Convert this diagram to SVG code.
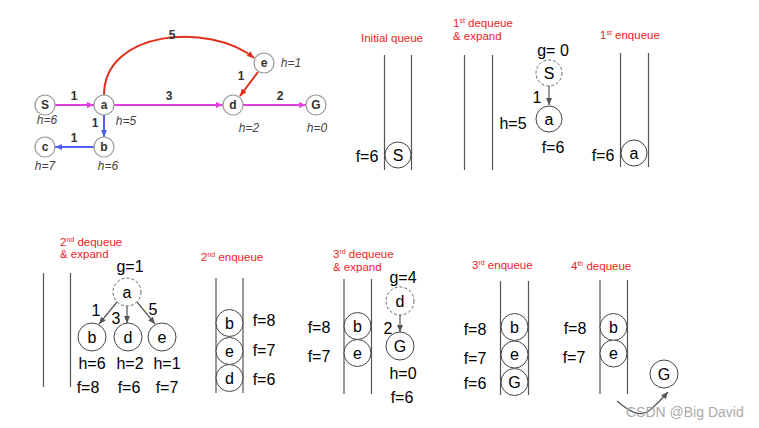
<svg xmlns="http://www.w3.org/2000/svg" width="759" height="428" viewBox="0 0 759 428">
<defs>
<marker id="mM" markerWidth="8" markerHeight="8" refX="7" refY="4" orient="auto" markerUnits="userSpaceOnUse"><path d="M0,1 L7,4 L0,7 Z" fill="#e040e0"/></marker>
<marker id="mB" markerWidth="8" markerHeight="8" refX="7" refY="4" orient="auto" markerUnits="userSpaceOnUse"><path d="M0,1 L7,4 L0,7 Z" fill="#4f5ef0"/></marker>
<marker id="mR" markerWidth="8" markerHeight="8" refX="7" refY="4" orient="auto" markerUnits="userSpaceOnUse"><path d="M0,1 L7,4 L0,7 Z" fill="#e0301e"/></marker>
<marker id="mG" markerWidth="8" markerHeight="8" refX="7" refY="4" orient="auto" markerUnits="userSpaceOnUse"><path d="M0,1 L7,4 L0,7 Z" fill="#555"/></marker>
</defs>
<style>
.gn{fill:#fff;stroke:#999;stroke-width:1.2}
.gt{font-family:"Liberation Sans",Arial,sans-serif;font-size:12px;font-weight:bold;fill:#333;text-anchor:middle}
.gh{font-family:"Liberation Sans",Arial,sans-serif;font-size:12px;font-style:italic;fill:#444;text-anchor:middle}
.em{stroke:#e040e0;stroke-width:2;fill:none}
.eb{stroke:#4f5ef0;stroke-width:2;fill:none}
.er{stroke:#e0301e;stroke-width:2;fill:none}
.q{stroke:#555;stroke-width:1.2}
.qn{fill:#fff;stroke:#444;stroke-width:1}
.qd{fill:#fff;stroke:#666;stroke-width:1;stroke-dasharray:3,2}
.t{font-family:"Liberation Sans",Arial,sans-serif;font-size:16px;fill:#000;text-anchor:middle}
.r{font-family:"Liberation Sans",Arial,sans-serif;font-size:11.5px;fill:#ee1c24}
.ar{stroke:#555;stroke-width:1.2;fill:none}
.wm{font-family:"Liberation Sans",Arial,sans-serif;font-size:14px;fill:#aaa}
</style>

<g id="connectors">
<line class="em" x1="55" y1="105" x2="94" y2="105" marker-end="url(#mM)"/>
<line class="em" x1="114" y1="105" x2="223" y2="105" marker-end="url(#mM)"/>
<line class="em" x1="243" y1="105" x2="306" y2="105" marker-end="url(#mM)"/>
<line class="eb" x1="104" y1="115" x2="104" y2="137" marker-end="url(#mB)"/>
<line class="eb" x1="94" y1="147" x2="55" y2="147" marker-end="url(#mB)"/>
<path class="er" d="M104,95 C104,30 210,22 254,58" marker-end="url(#mR)"/>
<line class="er" x1="258" y1="72" x2="240" y2="96" marker-end="url(#mR)"/>
<text class="gt" x="74" y="100">1</text>
<text class="gt" x="169" y="100">3</text>
<text class="gt" x="280" y="100">2</text>
<text class="gt" x="172" y="39">5</text>
<text class="gt" x="241" y="80">1</text>
<text class="gt" x="95" y="127">1</text>
<text class="gt" x="74" y="142">1</text>
</g>

<g id="node-S"><circle class="gn" cx="45" cy="105" r="10"/><text class="gt" x="45" y="109">S</text><text class="gh" x="47" y="124">h=6</text></g>
<g id="node-a"><circle class="gn" cx="104" cy="105" r="10"/><text class="gt" x="104" y="109">a</text><text class="gh" x="126" y="125">h=5</text></g>
<g id="node-d"><circle class="gn" cx="233" cy="105" r="10"/><text class="gt" x="233" y="109">d</text><text class="gh" x="249" y="132">h=2</text></g>
<g id="node-G"><circle class="gn" cx="316" cy="105" r="10"/><text class="gt" x="316" y="109">G</text><text class="gh" x="317" y="132">h=0</text></g>
<g id="node-e"><circle class="gn" cx="264" cy="63" r="10"/><text class="gt" x="264" y="67">e</text><text class="gh" x="291" y="67">h=1</text></g>
<g id="node-c"><circle class="gn" cx="45" cy="147" r="10"/><text class="gt" x="45" y="151">c</text><text class="gh" x="45" y="170">h=7</text></g>
<g id="node-b"><circle class="gn" cx="104" cy="147" r="10"/><text class="gt" x="104" y="151">b</text><text class="gh" x="108" y="170">h=6</text></g>

<g id="initial-queue">
<text class="r" x="361" y="42">Initial queue</text>
<line class="q" x1="384.5" y1="55" x2="384.5" y2="170"/>
<line class="q" x1="411.5" y1="55" x2="411.5" y2="170"/>
<circle class="qn" cx="398" cy="155" r="13"/>
<text class="t" x="398" y="161">S</text>
<text class="t" x="367" y="162">f=6</text>
</g>

<g id="dequeue-1">
<text class="r" x="453" y="27">1<tspan font-size="7" dy="-4">st</tspan><tspan dy="4"> dequeue</tspan></text>
<text class="r" x="453" y="40">&amp; expand</text>
<line class="q" x1="464.5" y1="55" x2="464.5" y2="170"/>
<line class="q" x1="492.5" y1="55" x2="492.5" y2="170"/>
<text class="t" x="553" y="56">g= 0</text>
<circle class="qd" cx="549" cy="73" r="13"/>
<text class="t" x="549" y="79">S</text>
<line class="ar" x1="549" y1="86" x2="549" y2="105" marker-end="url(#mG)"/>
<text class="t" x="537" y="103">1</text>
<circle class="qn" cx="549" cy="119" r="13"/>
<text class="t" x="549" y="125">a</text>
<text class="t" x="513" y="129">h=5</text>
<text class="t" x="553" y="153">f=6</text>
</g>

<g id="enqueue-1">
<text class="r" x="600" y="39">1<tspan font-size="7" dy="-4">st</tspan><tspan dy="4"> enqueue</tspan></text>
<line class="q" x1="620.5" y1="53" x2="620.5" y2="167"/>
<line class="q" x1="648.5" y1="53" x2="648.5" y2="167"/>
<circle class="qn" cx="634" cy="153" r="13"/>
<text class="t" x="634" y="159">a</text>
<text class="t" x="603" y="161">f=6</text>
</g>

<g id="dequeue-2">
<text class="r" x="60" y="246">2<tspan font-size="7" dy="-4">nd</tspan><tspan dy="4"> dequeue</tspan></text>
<text class="r" x="60" y="258">&amp; expand</text>
<line class="q" x1="43.5" y1="273" x2="43.5" y2="387"/>
<line class="q" x1="70.5" y1="273" x2="70.5" y2="387"/>
<text class="t" x="130" y="272">g=1</text>
<circle class="qd" cx="127" cy="292" r="14"/>
<text class="t" x="127" y="298">a</text>
<line class="ar" x1="117" y1="302" x2="99" y2="324" marker-end="url(#mG)"/>
<line class="ar" x1="127" y1="306" x2="127" y2="323" marker-end="url(#mG)"/>
<line class="ar" x1="137" y1="302" x2="155" y2="324" marker-end="url(#mG)"/>
<text class="t" x="96" y="316">1</text>
<text class="t" x="116" y="324">3</text>
<text class="t" x="153" y="315">5</text>
<circle class="qn" cx="92" cy="337" r="14"/><text class="t" x="92" y="343">b</text>
<circle class="qn" cx="128" cy="337" r="14"/><text class="t" x="128" y="343">d</text>
<circle class="qn" cx="162" cy="337" r="14"/><text class="t" x="162" y="343">e</text>
<text class="t" x="92" y="369">h=6</text>
<text class="t" x="130" y="369">h=2</text>
<text class="t" x="167" y="369">h=1</text>
<text class="t" x="88" y="393">f=8</text>
<text class="t" x="129" y="393">f=6</text>
<text class="t" x="167" y="393">f=7</text>
</g>

<g id="enqueue-2">
<text class="r" x="201" y="261">2<tspan font-size="7" dy="-4">nd</tspan><tspan dy="4"> enqueue</tspan></text>
<line class="q" x1="216" y1="278" x2="216" y2="393"/>
<line class="q" x1="243" y1="278" x2="243" y2="393"/>
<circle class="qn" cx="229.5" cy="323" r="13.5"/><text class="t" x="229.5" y="329">b</text>
<circle class="qn" cx="229.5" cy="351" r="13.5"/><text class="t" x="229.5" y="357">e</text>
<circle class="qn" cx="229.5" cy="378" r="13.5"/><text class="t" x="229.5" y="384">d</text>
<text class="t" x="264" y="326">f=8</text>
<text class="t" x="264" y="356">f=7</text>
<text class="t" x="264" y="385">f=6</text>
</g>

<g id="dequeue-3">
<text class="r" x="333" y="258">3<tspan font-size="7" dy="-4">rd</tspan><tspan dy="4"> dequeue</tspan></text>
<text class="r" x="333" y="271">&amp; expand</text>
<line class="q" x1="344" y1="279" x2="344" y2="394"/>
<line class="q" x1="371.5" y1="279" x2="371.5" y2="394"/>
<circle class="qn" cx="357.5" cy="326" r="13.5"/><text class="t" x="357.5" y="332">b</text>
<circle class="qn" cx="357.5" cy="353" r="13.5"/><text class="t" x="357.5" y="359">e</text>
<text class="t" x="319" y="333">f=8</text>
<text class="t" x="319" y="362">f=7</text>
<text class="t" x="403" y="283">g=4</text>
<circle class="qd" cx="400" cy="301" r="14"/><text class="t" x="400" y="307">d</text>
<line class="ar" x1="400" y1="315" x2="400" y2="332" marker-end="url(#mG)"/>
<text class="t" x="388" y="334">2</text>
<circle class="qn" cx="400" cy="346" r="14"/><text class="t" x="400" y="352">G</text>
<text class="t" x="403" y="379">h=0</text>
<text class="t" x="402" y="403">f=6</text>
</g>

<g id="enqueue-3">
<text class="r" x="472" y="269">3<tspan font-size="7" dy="-4">rd</tspan><tspan dy="4"> enqueue</tspan></text>
<line class="q" x1="500.5" y1="281" x2="500.5" y2="395"/>
<line class="q" x1="528.5" y1="281" x2="528.5" y2="395"/>
<circle class="qn" cx="514.5" cy="327" r="13.5"/><text class="t" x="514.5" y="333">b</text>
<circle class="qn" cx="514.5" cy="354.5" r="13.5"/><text class="t" x="514.5" y="360">e</text>
<circle class="qn" cx="514.5" cy="382" r="13.5"/><text class="t" x="514.5" y="388">G</text>
<text class="t" x="475" y="335">f=8</text>
<text class="t" x="475" y="364">f=7</text>
<text class="t" x="475" y="389">f=6</text>
</g>

<g id="dequeue-4">
<text class="r" x="571" y="270">4<tspan font-size="7" dy="-4">th</tspan><tspan dy="4"> dequeue</tspan></text>
<line class="q" x1="600" y1="280" x2="600" y2="394"/>
<line class="q" x1="627.5" y1="280" x2="627.5" y2="394"/>
<circle class="qn" cx="613.5" cy="327" r="13.5"/><text class="t" x="613.5" y="333">b</text>
<circle class="qn" cx="613.5" cy="353.5" r="13.5"/><text class="t" x="613.5" y="359">e</text>
<text class="t" x="575" y="334">f=8</text>
<text class="t" x="574" y="363">f=7</text>
<circle class="qn" cx="664" cy="374" r="14"/><text class="t" x="664" y="380">G</text>
<path class="ar" d="M617,401 C630,412 640,418 650,410 C657,404 662,399 668,392" marker-end="url(#mG)"/>
</g>

<text class="wm" x="626" y="417">CSDN @Big David</text>
</svg>
